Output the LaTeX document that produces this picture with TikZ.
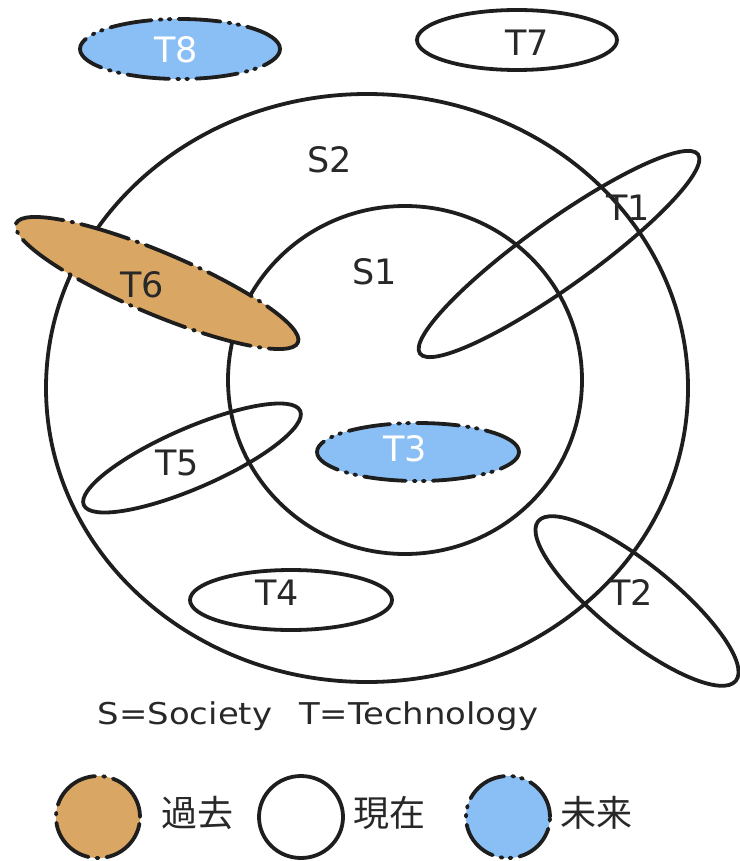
\documentclass[tikz,border=0pt]{standalone}
\usepackage{fontspec}
\setmainfont{DejaVu Sans}
\newfontfamily\jpfont{Noto Sans CJK JP}
\usetikzlibrary{shapes.geometric}
\definecolor{pastc}{RGB}{218,166,99}
\definecolor{futc}{RGB}{138,191,245}
\definecolor{inkc}{RGB}{30,30,30}
\definecolor{txtc}{RGB}{40,40,40}
\tikzset{
  ell/.style={ellipse, inner sep=0pt, line width=3.8pt, draw=inkc},
  present/.style={ell},
  past/.style={ell, fill=pastc, line cap=round, dash pattern=on 50pt off 8pt on 2pt off 8pt},
  future/.style={ell, fill=futc, line cap=round, dash pattern=on 42pt off 8pt on 2pt off 7pt on 2pt off 8pt},
  lab/.style={font=\fontsize{35}{35}\selectfont, text=txtc},
  wlab/.style={font=\fontsize{35}{35}\selectfont, text=white},
  leg/.style={font=\jpfont\fontsize{36}{36}\selectfont, text=txtc, anchor=west, inner sep=0pt}
}
\begin{document}
\begin{tikzpicture}[x=1pt,y=-1pt]
\useasboundingbox (0,0) rectangle (739,861);
% S circles
\node[present, minimum width=642pt, minimum height=588pt] (S2) at (367,388) {};
\node[present, minimum width=354pt, minimum height=348pt] (S1) at (405,380) {};
% top
\node[future, minimum width=200pt, minimum height=60pt] (T8) at (180,49) {};
\node[present, minimum width=200pt, minimum height=60pt] (T7) at (517,40) {};
% rotated
\node[present, minimum width=342pt, minimum height=66pt, rotate=35.6] (T1) at (559,254) {};
\node[past, minimum width=306pt, minimum height=62pt, rotate=-22.9] (T6) at (157,283) {};
\node[present, minimum width=236pt, minimum height=60pt, rotate=23.5] (T5) at (192,458) {};
\node[present, minimum width=254pt, minimum height=74pt, rotate=-38.9] (T2) at (637,601) {};
\node[future, minimum width=202pt, minimum height=58pt] (T3) at (418,452) {};
\node[present, minimum width=202pt, minimum height=60pt] (T4) at (291,600) {};
% labels
\node[lab] (lS2) at (330,160) {S2};
\node[lab] (lS1) at (375,272) {S1};
\node[lab] (lT1) at (628,208) {T1};
\node[lab] (lT6) at (142,285) {T6};
\node[lab] (lT5) at (177,463) {T5};
\node[wlab] (lT3) at (405,449) {T3};
\node[lab] (lT4) at (277,593) {T4};
\node[lab] (lT2) at (631,593) {T2};
\node[lab] (lT7) at (527,43) {T7};
\node[wlab] (lT8) at (176,50) {T8};
% legend
\node[font=\addfontfeature{FakeStretch=1.13}\fontsize{30}{30}\selectfont, text=txtc] (key) at (318,716) {S=Society\hspace{0.9em}T=Technology};
\node[past, minimum width=84pt, minimum height=82pt] (Lpast) at (98,817) {};
\node[present, minimum width=84pt, minimum height=82pt] (Lpres) at (301,817) {};
\node[future, minimum width=84pt, minimum height=82pt] (Lfut) at (508,817) {};
\node[leg] (tpast) at (161,813) {過去};
\node[leg] (tpres) at (353,813) {現在};
\node[leg] (tfut) at (560,813) {未来};
\end{tikzpicture}
\end{document}
